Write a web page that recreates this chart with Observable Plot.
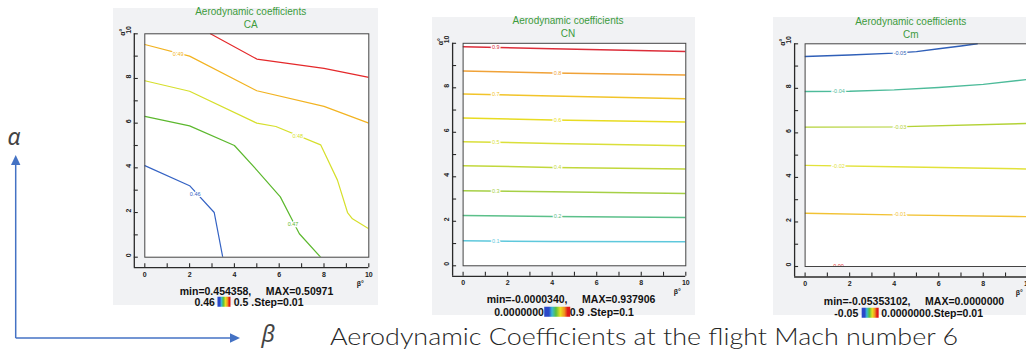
<!DOCTYPE html>
<html><head><meta charset="utf-8">
<script src="https://cdn.jsdelivr.net/npm/d3@7"></script>
<script src="https://cdn.jsdelivr.net/npm/@observablehq/plot@0.6"></script>
<style>
body{margin:0;background:#fff;}
#root{position:relative;width:1026px;height:351px;overflow:hidden;font-family:"Liberation Sans",Arial,sans-serif;background:#fff;}
.panel{position:absolute;background:#f1f2f4;}
.panel svg{position:absolute;left:0;top:0;}
.c{position:absolute;white-space:pre;transform:translate(-50%,-50%);line-height:1;}
.t{color:#3c9b3c;font-size:10px;}
.s{color:#111;font-size:10.5px;font-weight:bold;}
.cb{display:inline-block;height:10px;vertical-align:-1px;background:linear-gradient(90deg,#2a48c8 0%,#2a48c8 18%,#38b8d8 30%,#58c040 45%,#e8e020 62%,#f09020 78%,#e01818 90%,#e01818 100%);}
#deco{position:absolute;left:0;top:0;}
</style></head>
<body><div id="root"></div>
<script>
// ---- axis ticks ----
const betaTicks = [0,1,2,3,4,5,6,7,8,9,10];
const betaTickLabels = [0,2,4,6,8,10];
const alphaTicks = [0,1,2,3,4,5,6,7,8,9,10];
const alphaTickLabels = [0,2,4,6,8,10];

// ---- CA contours ----
const caLevels = ["0.46","0.47","0.48","0.49","0.50"];
const caColors = ["#3563c4","#5cb82e","#d6df2c","#f2b321","#e4282a"];
const caBeta = [[0,2,3.1,3.48],[0,2,4,5,6.05,6.9,7.85],[0,2,5,5.85,7.85,8.6,9.05,9.27,10],[0,2,5,8,10],[2.93,5,8,10]];
const caAlpha = [[4.1,3.2,2.0,0],[6.3,5.88,5.0,3.9,2.7,1.05,0],[7.9,7.43,6.0,5.85,5.03,3.45,2.0,1.72,1.27],[9.52,9.0,7.45,6.75,6.0],[10,8.87,8.45,8.05]];
const caLabelLevels = ["0.46","0.47","0.48","0.49"];
const caLabelBeta = [2.25,6.62,6.83,1.49];
const caLabelAlpha = [2.84,1.46,5.4,9.1];
const caStats = ["min=0.454358,     MAX=0.50971","0.46","0.5 .Step=0.01"];

// ---- CN contours ----
const cnLevels = ["0.1","0.2","0.3","0.4","0.5","0.6","0.7","0.8","0.9"];
const cnColors = ["#5ec8dc","#5cc08a","#a6d046","#c2d83c","#dadf3a","#e8dc22","#f2c42a","#f0a238","#dc2e3a"];
const cnBeta = [[0,4,10],[0,4,10],[0,4,10],[0,4,10],[0,4,10],[0,4,10],[0,4,10],[0,4,10],[0,4,10]];
const cnAlpha = [[1.12,1.09,1.08],[2.26,2.22,2.17],[3.37,3.33,3.25],[4.5,4.42,4.35],[5.58,5.5,5.4],[6.64,6.55,6.46],[7.72,7.63,7.51],[8.76,8.67,8.58],[9.85,9.75,9.63]];
const cnLabelLevels = cnLevels;
const cnLabelBeta = [1.47,4.24,1.47,4.24,1.47,4.24,1.47,4.24,1.47];
const cnLabelAlpha = [1.11,2.22,3.36,4.42,5.57,6.55,7.70,8.67,9.83];
const cnStats = ["min=-0.0000340,     MAX=0.937906","0.0000000","0.9 .Step=0.1"];

// ---- Cm contours ----
const cmLevels = ["-0.05","-0.04","-0.03","-0.02","-0.01","0.00"];
const cmColors = ["#2f5fb8","#4dbb9a","#b3d236","#e2e23a","#f2c233","#e03030"];
const cmBeta = [[0,2,4,5,6,7,7.73],[0,2,4,6,8,10],[0,4,10],[0,4,10],[0,4,10]];
const cmAlpha = [[9.43,9.5,9.58,9.65,9.78,9.9,10],[7.86,7.87,7.93,8.04,8.18,8.4],[6.26,6.27,6.42],[4.54,4.48,4.38],[2.39,2.32,2.24]];
const cmLabelLevels = ["-0.05","-0.04","-0.03","-0.02","-0.01","0.00"];
const cmLabelBeta = [4.26,1.5,4.26,1.5,4.26,1.5];
const cmLabelAlpha = [9.56,7.87,6.27,4.52,2.33,0];
const cmStats = ["min=-0.05353102,     MAX=0.0000000","-0.05","0.0000000.Step=0.01"];

const panelTitle = "Aerodynamic coefficients";
const caption = "Aerodynamic Coefficients at the flight Mach number 6";

const root = document.getElementById("root");

function buildLines(levels, betas, alphas) {
  const rows = [];
  betas.forEach((bs, i) => bs.forEach((b, j) => rows.push({level: levels[i], beta: b, alpha: alphas[i][j]})));
  return rows;
}
function buildLabels(levels, betas, alphas) {
  return levels.map((l, i) => ({level: l, beta: betas[i], alpha: alphas[i]}));
}

function makePanel(cfg) {
  const div = document.createElement("div");
  div.className = "panel";
  Object.assign(div.style, {left: cfg.left + "px", top: cfg.top + "px", width: cfg.width + "px", height: cfg.height + "px"});
  const fw = cfg.fr - cfg.fl, fh = cfg.fb - cfg.ft;
  const lines = buildLines(cfg.levels, cfg.betas, cfg.alphas);
  const labels = buildLabels(cfg.labelLevels, cfg.labelBetas, cfg.labelAlphas);
  const axisColor = "#2a2a2a";
  const chart = Plot.plot({
    width: cfg.width, height: cfg.height,
    marginLeft: cfg.fl - cfg.left, marginTop: cfg.ft - cfg.top,
    marginRight: cfg.left + cfg.width - cfg.fr, marginBottom: cfg.top + cfg.height - cfg.fb,
    x: {domain: [0, 10], axis: null},
    y: {domain: [0, 10], axis: null},
    color: {domain: cfg.levels, range: cfg.colors},
    style: {background: "transparent", overflow: "visible", fontFamily: "Liberation Sans, Arial, sans-serif"},
    marks: [
      Plot.frame({fill: "white", stroke: null}),
      Plot.line(lines, {x: "beta", y: "alpha", z: "level", stroke: "level", strokeWidth: cfg.lw, clip: true, curve: "linear"}),
      Plot.text(labels, {x: "beta", y: "alpha", text: "level", fill: "level", stroke: "white", strokeWidth: 2.5, fontSize: 5.5, clip: true}),
      Plot.frame({stroke: "#444", strokeWidth: 1}),
      // offset axis lines
      Plot.ruleY([0], {dy: 10.5, insetLeft: -10.5, stroke: axisColor, strokeWidth: 1.3}),
      Plot.ruleX([0], {dx: -10.5, insetBottom: -10.5, stroke: axisColor, strokeWidth: 1.3}),
      // ticks
      Plot.ruleX(betaTicks, {x: d => d, insetTop: fh + 6.5, insetBottom: -10.5, stroke: axisColor, strokeWidth: 1.1}),
      Plot.ruleY(alphaTicks, {y: d => d, insetLeft: -10.5, insetRight: fw + 6.5, stroke: axisColor, strokeWidth: 1.1}),
      // tick labels
      Plot.text(betaTickLabels, {x: d => d, frameAnchor: "bottom", dy: 19.5, text: d => String(d), fontSize: 7, fontWeight: "bold", fill: "#222"}),
      Plot.text(alphaTickLabels, {y: d => d, frameAnchor: "left", dx: -16.5, rotate: -90, text: d => String(d), fontSize: 7, fontWeight: "bold", fill: "#222"}),
      Plot.text(["α°"], {frameAnchor: "top-left", dx: -25, dy: 2, rotate: -90, fontSize: 7, fontWeight: "bold", fill: "#222"}),
      Plot.text(["β°"], {frameAnchor: "bottom-right", dx: -5, dy: 28.5, fontSize: 7, fontWeight: "bold", fill: "#222"})
    ]
  });
  div.appendChild(chart);
  root.appendChild(div);

  const add = (cls, html, x, y) => {
    const d = document.createElement("div");
    d.className = "c " + cls;
    d.innerHTML = html;
    d.style.left = x + "px"; d.style.top = y + "px";
    root.appendChild(d);
  };
  add("t", panelTitle, cfg.titleX, cfg.titleY);
  add("t", cfg.name, cfg.titleX, cfg.titleY + 13.3);
  add("s", cfg.stats[0], cfg.s1x, cfg.s1y);
  add("s", `${cfg.stats[1]}${cfg.gap1}<span class="cb" style="width:${cfg.cbw}px"></span>${cfg.gap2}${cfg.stats[2]}`, cfg.s2x, cfg.s2y);
}

// decorations (alpha/beta arrows + caption)
const ns = "http://www.w3.org/2000/svg";
const deco = document.createElementNS(ns, "svg");
deco.setAttribute("id", "deco");
deco.setAttribute("width", 1026); deco.setAttribute("height", 351);
deco.innerHTML = `
  <g stroke="#4472c4" stroke-width="1.5" fill="#4472c4">
    <line x1="15.7" y1="338" x2="15.7" y2="163"/>
    <polygon points="15.7,155 11,165 20.4,165" stroke="none"/>
    <line x1="15.7" y1="338" x2="231" y2="338"/>
    <polygon points="240,338 230,333.3 230,342.7" stroke="none"/>
  </g>
  <text x="14" y="145" font-family="Noto Sans, sans-serif" font-style="italic" font-size="23" fill="#444" text-anchor="middle">α</text>
  <text x="268" y="342" font-family="Noto Sans, sans-serif" font-style="italic" font-size="23" fill="#444" text-anchor="middle">β</text>
  <text x="330" y="345" font-family="Lato, Noto Sans, sans-serif" font-weight="300" font-size="24" fill="#262626" textLength="628" lengthAdjust="spacingAndGlyphs">${caption}</text>`;
root.appendChild(deco);

makePanel({name: "CA", left: 113, top: 8, width: 265, height: 297, fl: 144.3, fr: 368.3, ft: 33.3, fb: 256.7,
  levels: caLevels, colors: caColors, betas: caBeta, alphas: caAlpha, lw: 1.2,
  labelLevels: caLabelLevels, labelBetas: caLabelBeta, labelAlphas: caLabelAlpha,
  titleX: 250.7, titleY: 12, stats: caStats, s1x: 256.5, s1y: 290.5, s2x: 249, s2y: 301.5, cbw: 13, gap1: " ", gap2: " "});

makePanel({name: "CN", left: 431.7, top: 16.7, width: 263.3, height: 298.3, fl: 462.3, fr: 685, ft: 42.5, fb: 265,
  levels: cnLevels, colors: cnColors, betas: cnBeta, alphas: cnAlpha, lw: 1.5,
  labelLevels: cnLabelLevels, labelBetas: cnLabelBeta, labelAlphas: cnLabelAlpha,
  titleX: 568, titleY: 20.7, stats: cnStats, s1x: 571, s1y: 298.5, s2x: 564, s2y: 311.5, cbw: 26, gap1: "", gap2: ""});

makePanel({name: "Cm", left: 772.7, top: 17, width: 262, height: 298, fl: 804.3, fr: 1027, ft: 43.3, fb: 266,
  levels: cmLevels, colors: cmColors, betas: cmBeta, alphas: cmAlpha, lw: 1.4,
  labelLevels: cmLabelLevels, labelBetas: cmLabelBeta, labelAlphas: cmLabelAlpha,
  titleX: 910.7, titleY: 21.7, stats: cmStats, s1x: 914, s1y: 300.5, s2x: 908.7, s2y: 312.5, cbw: 17, gap1: " ", gap2: " "});
</script>
</body></html>
